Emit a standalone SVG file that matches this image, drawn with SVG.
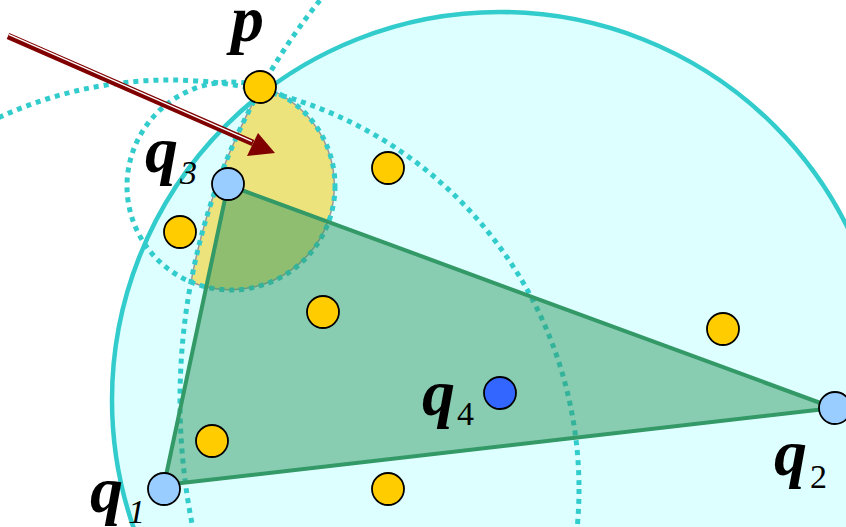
<svg xmlns="http://www.w3.org/2000/svg" width="846" height="527" viewBox="0 0 846 527">
<style>
.dot{fill:none;stroke:#33cccc;stroke-width:5;stroke-dasharray:5 5}
.pt{stroke:#000;stroke-width:1.8}
.y{fill:#ffcc00}
.q{fill:#99ccff}
.lab{font-family:"Liberation Serif","DejaVu Serif",serif;font-style:italic;font-weight:bold;font-size:66px;fill:#000}
.sub{font-family:"Liberation Serif","DejaVu Serif",serif;font-weight:normal;font-size:34px;fill:#000}
.it{font-style:italic}
</style>
<rect width="846" height="527" fill="#ffffff"/>
<g id="big-circle">
<circle cx="500" cy="400" r="388" fill="#ddffff" stroke="#33cccc" stroke-width="4.5"/>
</g>
<g id="lens">
<path d="M261.8,86.6 A104,104 0 1 1 191,282 A641,641 0 0 1 261.8,86.6 Z" fill="#ece37c" stroke="#999999" stroke-width="1.5"/>
</g>
<g id="dotted-circles">
<circle class="dot" cx="231" cy="186" r="104"/>
<circle class="dot" cx="821" cy="400" r="641"/>
<circle class="dot" cx="170" cy="489" r="409"/>
</g>
<g id="triangle">
<polygon points="164,485 834,408 228,185" fill="#339966" fill-opacity="0.5" stroke="#339966" stroke-width="4" stroke-linejoin="round"/>
</g>
<g id="connectors">
<line x1="8" y1="36" x2="253" y2="143" stroke="#800000" stroke-width="6.5"/>
<line x1="9" y1="34.6" x2="252" y2="141.4" stroke="#ffffff" stroke-width="1.3"/>
<polygon points="275,153 258,133 247,156" fill="#800000"/>
</g>
<g id="node-p"><circle class="pt y" cx="260" cy="87" r="16"/><text class="lab" x="231" y="41">p</text></g>
<g id="node-a"><circle class="pt y" cx="388" cy="168" r="16"/></g>
<g id="node-b"><circle class="pt y" cx="180" cy="232" r="16"/></g>
<g id="node-c"><circle class="pt y" cx="323" cy="312" r="16"/></g>
<g id="node-d"><circle class="pt y" cx="723" cy="329" r="16"/></g>
<g id="node-e"><circle class="pt y" cx="212" cy="441" r="16"/></g>
<g id="node-f"><circle class="pt y" cx="388" cy="489" r="16"/></g>
<g id="node-q3"><circle class="pt q" cx="228" cy="184" r="16"/><text class="lab" x="145" y="172">q</text><text class="sub it" x="180" y="184">3</text></g>
<g id="node-q1"><circle class="pt q" cx="164" cy="489" r="16"/><text class="lab" x="90" y="512">q</text><text class="sub it" x="128" y="523">1</text></g>
<g id="node-q4"><circle cx="500" cy="393" r="16" fill="#3366ff" stroke="#000" stroke-width="1.8"/><text class="lab" x="422" y="415">q</text><text class="sub" x="457" y="425">4</text></g>
<g id="node-q2"><circle class="pt q" cx="835" cy="408" r="16"/><text class="lab" x="774" y="475">q</text><text class="sub" x="810" y="488">2</text></g>
</svg>
